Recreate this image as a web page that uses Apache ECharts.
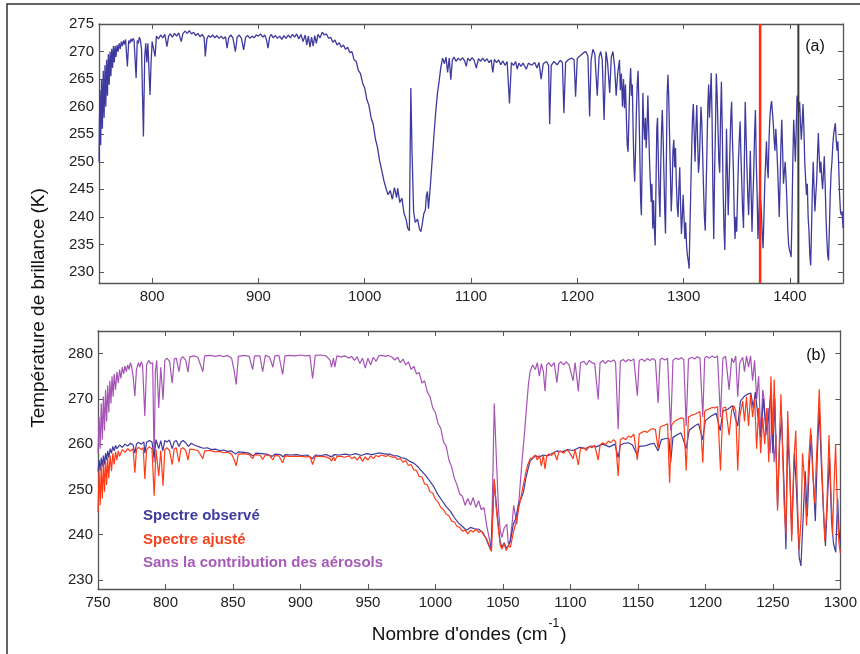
<!DOCTYPE html>
<html>
<head>
<meta charset="utf-8">
<script src="https://cdn.jsdelivr.net/npm/echarts@6.0.0/dist/echarts.min.js"></script>
<style>html,body{margin:0;padding:0;background:#fff;}#chart{width:860px;height:654px;}</style>
</head>
<body>
<div id="chart"></div>
<script>
// ---------- axis ticks ----------
const waveTicksA = [800, 900, 1000, 1100, 1200, 1300, 1400];
const tempTicksA = [230, 235, 240, 245, 250, 255, 260, 265, 270, 275];
const waveTicksB = [750, 800, 850, 900, 950, 1000, 1050, 1100, 1150, 1200, 1250, 1300];
const tempTicksB = [230, 240, 250, 260, 270, 280];
const markerLinesA = [1372, 1408];   // red and black channel markers (cm-1)

// ---------- panel (a): observed spectrum [wavenumber, Tb] ----------
const specA = [
[750,250],[750.8,263],[751.6,253],[752.4,265],[753.2,256],[754,266.5],[754.8,258],[755.6,267.5],[756.4,260],[757.2,268.5],[758,262],[758.8,269.5],[759.6,264],[760.4,270],[761.2,265.5],[762,270.5],[762.8,267],[763.6,271],[764.4,268],[765.2,271],[766,269],[767,271.2],[768,270],[769,271.5],[770,270.5],[771,271.8],[772,271],[773,272],[774,271.3],[775,272.2],[776.7,267.3],[778,272],[779,271.5],[780,272.3],[781,271.8],[782,272.4],[783,272],[784.9,265.2],[786,272],[787,271.5],[788,272.6],[789,272],[790,270.5],[791.8,254.6],[793,269],[794,271.5],[795,268],[796,271.5],[798,262.1],[799,268],[800,271.8],
[802.8,269.1],[804,272.8],[806,272.3],[808,273],[810,272.5],[812,273.1],[813.9,270.9],[815.5,272.8],[817,273.2],[819,272.6],[821,273.3],[823,272.8],[825,273.4],[827.4,271.8],[829,273.3],[831,273.7],[833,273.3],[835,273.8],[837,273.2],[839,273.5],[841,272.9],[843,273.3],[845,272.7],[847,273.1],[849,272.5],[850,269.1],[851.5,272.3],[853,272.9],[855,272.6],[857,273],[859,272.5],[861,272.9],[863,272.4],[865,272.8],[867,272.3],[869,272.7],[870.5,270.6],[872,272.5],[874,273],[876,272.5],[878.3,270],[880,272.6],[882,273],[884,272.4],[886.1,270.3],[888,272.6],[890,272.9],[892,272.4],[894,272.8],[896,272.5],[898,273],[900,272.8],[902,273.2],[904,272.6],[906,273],[907.5,272.2],[909,270.6],[910.5,272.6],[912,273.1],[914,272.5],[916,272.9],[918,272.4],[920,272.8],[922,272.2],[924,272.9],[926,272.4],[928,273],[930,272.5],[932,273.1],[934,272.6],[936,273.2],[938,272.3],[940,273.1],[942,271.8],[944,273],[945.5,271.2],[947,272.8],[948.5,270.8],[950,272.6],[951.5,271],[953,272.9],[954.5,271.5],[956,273.1],[958,272.5],[960,273.5],[962,273],[964,273.2],[966,272.4],[968,272.6],[970,271.7],[972,272.1],[974,271.2],[976,271.6],[978,270.8],[980,271.2],[982,270.4],[984,270.8],[986,269.8],[988,270],[990,268.5],[992,268.2],[994,266.6],[996,266],[998,264.3],[1000,263.4],[1002,261.3],[1004,260.2],[1006,258],[1008,256.8],[1010,254.2],[1012,252.6],[1014,250.2],[1016,248.5],[1018,246.6],[1020,245.2],[1022,244],[1024,244.8],[1026,243.2],[1028,245.3],[1030,243.5],[1031,245.2],[1033,242.6],[1035,243.4],[1037,240.6],[1039,239.5],[1040.5,237.9],[1042,237.5],[1043.4,263.4],[1044.5,252],[1046,241],[1047.5,239],[1049.7,239.6],[1051.5,237.8],[1052.8,237.3],[1054,238.5],[1055.5,240.5],[1057,241.2],[1058,243.8],[1059,244.6],[1060,241.5],[1061.5,245],[1063,249],[1065.4,255.5],[1067,259.5],[1068.5,262.5],[1070,264.6],[1071.5,267],[1073.3,268.8],[1075,267.8],[1076.5,269],[1078,266.2],[1079.5,268.8],[1081,264.9],[1082.5,268.5],[1084,269],[1086,268.2],[1088,268.8],[1090,268.4],[1092,268.9],[1094,268.3],[1095.5,267.3],[1097,268.8],[1099,268.3],[1101,268.9],[1103,268.4],[1105,267],[1107,268.7],[1109,268.2],[1111,268.8],[1113,268.2],[1115,268.7],[1117,268],[1119,268.5],[1120.5,266.2],[1122,268.6],[1124,268],[1126,268.5],[1128,267.6],[1130,268.3],[1132,267.5],[1134,268.2],[1136.2,260.6],[1138,268],[1140,267.5],[1142,268.2],[1143.5,266.8],[1145,267.9],[1147,267.3],[1149,267.9],
[1150,267.8],[1152,266.8],[1154,267.9],[1157,267.5],[1160,268],[1162,267],[1164,268],[1166,265],[1168,267.8],[1171,268.2],[1173,267.5],[1174,256.8],[1175.5,267.5],[1178,268.2],[1181,267.6],[1184,268.4],[1186,268],[1187.4,258.8],[1189,268],[1192,268.6],[1195,268.8],[1197,268.5],[1198.4,261.8],[1200,268.8],[1203,269.3],[1206,269.8],[1208,270],[1210,269.2],[1211.6,258.2],[1213,268.5],[1214.7,270.4],[1216.5,269.5],[1218.8,262],[1220.5,269],[1222,270],[1223.5,268.5],[1225.2,257.6],[1227,270],[1228.5,268],[1230.5,262.5],[1232,269],[1233.5,270],[1235,267.5],
[1236.6,262],[1238,266],[1239.7,268.5],[1240.5,263],[1241.5,266],[1242.5,260],[1243.5,265],[1244.4,259.7],[1245.3,264],[1246.2,258],[1247,253],[1247.8,251.8],[1248.6,258],[1249.4,264],[1250.2,267],[1251,262],[1251.8,264],[1252.6,255],[1253.4,249],[1254,246.4],[1254.8,252],[1255.6,259],[1256.4,264],[1257.2,266.5],[1258,260],[1258.8,252],[1259.6,243],[1260.3,240.3],[1261,250],[1261.7,262.5],[1262.5,257],[1263.3,254],[1264.1,258],[1264.8,252.5],[1265.6,256],[1266.4,262],[1267.2,256],[1268,250],[1268.8,246],[1269.5,242.7],[1270.2,246],[1271,237.9],[1271.8,243],[1272.5,238],[1273.3,234.8],[1274,245],[1274.8,256],[1275.5,258],[1276.3,250],[1277,244],[1277.8,240],[1278.6,250],[1279.3,256],[1280,259.4],[1280.8,254],[1281.5,248],[1282.3,241],[1283,237],[1283.8,250],[1284.5,262],[1285.3,265.8],[1286,262],[1286.8,255],[1287.6,248],[1288.4,241],[1289.2,245],[1290,252],[1290.8,254],[1291.6,249],[1292.4,252.5],[1293.2,246],[1294,242],[1294.8,240],[1295.6,245],[1296.4,249],[1297.2,242],[1298,236.9],[1298.8,240],[1299.6,244],[1300.4,240],[1301.2,236],[1302,239],[1302.8,235],[1303.6,233],[1304.4,232],[1305.2,230.6],[1306,238],[1306.8,245],[1307.6,252],[1308.4,258],[1309.2,260.5],[1310,255],[1310.8,250],[1311.6,256],[1312.4,260.3],[1313.2,254],[1314,248],[1314.8,250],[1315.6,255],[1316.4,260],[1317.2,257],[1318,251],[1318.8,245],[1319.6,240],[1320.4,237.5],[1321.2,245],[1322,252],[1322.8,260],[1323.6,264],[1324.4,258],[1325.2,262],[1326,266.1],[1326.8,258],[1327.6,245],[1328.4,236],[1329.2,248],[1330,256],[1330.8,266],[1331.6,262],[1332.4,256],[1333.2,250],[1334,248],[1334.8,258],[1335.6,264.5],[1336.4,256],[1337.2,245],[1338,238],[1338.8,234],[1339.6,244],[1340.4,256],[1341.2,248],[1342,240.3],[1342.8,246],[1343.6,252],[1344.4,258],[1345.2,260.9],[1346,254],[1346.8,249],[1347.6,241],[1348.4,236],[1349.2,240],[1350,237.3],[1350.8,244],[1351.6,250],[1352.4,254],[1353.2,257.3],[1354,251],[1354.8,246],[1355.6,241],[1356.4,238],[1357.2,250],[1358,260.9],[1358.8,255],[1359.6,249],[1360.4,244],[1361.2,240.3],[1362,246],[1362.8,252],[1363.6,244],[1364.4,237.3],[1365.2,243],[1366,248],[1366.8,255],[1367.6,259.4],[1368.4,250],[1369.2,244],[1370,236],[1370.8,240],[1371.6,245],[1372.4,243],[1373.2,241],[1374,237],[1374.8,234.3],[1375.6,240],[1376.4,246],[1377.2,250],[1378,253.7],[1378.8,249],[1379.6,247],[1380.4,254],[1381.2,258],[1382,260],[1382.8,261],[1383.6,259],[1384.4,257],[1385.2,254],[1386,252],[1386.8,256],[1387.6,253],[1388.4,249.4],[1389.2,245],[1390,240],[1390.8,246],[1391.6,253],[1392.4,257.6],[1393.2,252],[1394,246],[1394.8,248],[1395.6,250],[1396.4,247],[1397.2,243],[1398,238],[1398.8,235],[1399.6,234],[1400.4,233.5],[1401.2,232.7],[1402,240],[1402.8,250],[1403.6,257.6],[1404.4,254],[1405.2,250],[1406,256],[1406.8,262],[1407.6,261],[1408.4,259],[1409.2,260.9],[1410,257],[1410.8,254],[1411.6,257],[1412.4,260.5],[1413.2,256],[1414,250],[1414.8,247],[1415.6,244],[1416.4,246],[1417.2,240],[1418,237.3],[1418.8,233],[1419.6,231.2],[1420.4,238],[1421.2,245],[1422,250],[1422.8,245],[1423.6,241],[1424.4,244],[1425.2,246.4],[1426,251],[1426.8,255.2],[1427.6,251],[1428.4,248],[1429.2,250],[1430,247],[1430.8,245],[1431.6,248],[1432.4,251],[1433.2,246],[1434,240],[1434.8,236],[1435.6,233],[1436.4,232.1],[1437.2,238],[1438,244],[1438.8,248],[1439.6,250],[1440.4,253],[1441.2,255],[1442,256],[1442.8,257],[1443.6,254],[1444.4,252],[1445.2,253.7],[1446,249],[1446.8,244],[1447.6,241],[1448.4,240.3],[1449.2,241],[1450,238]
];

// ---------- panel (b): observed, fitted, without aerosols ----------
const specObs = [
[750,254],[750.8,256.5],[751.6,254],[752.4,257],[753.2,255],[754,257.5],[754.8,255.5],[755.6,258],[756.4,256.5],[757.2,258.5],[758,257],[759,259],[760,258],[761,259.5],[762,258.5],[763,259.7],[764,259],[766,259.8],[768,259.3],[770,260],[772,259.6],[774,260.2],[776,259.8],[777.3,258],[778.5,260],[780,260.4],[782,260],[784,260.5],[784.7,258],[786,260.4],[788,260.8],[790,260.5],[791.6,257],[793,261],[795,259],[796.5,260.8],[798,258.5],[799.5,260.8],[801,260.5],[803,260.9],[805,259],[806.5,260.6],[808,260.8],[810,259.5],[811.5,260.5],[813,260.8],[815,260.3],[817,259.5],[819,260.2],[822,259.7],[825,259.4],[828,259.1],[831,259.2],[834,258.8],[837,258.9],[840,258.6],[843,258.7],[846,258.4],[849,258.5],[852,257.8],[854,258.3],[858,258.2],[862,258],[865,257.4],[867,258],[871,257.9],[875,257.8],[879,257.3],[881,257.8],[885,257.7],[887,257.2],[889,257.7],[893,257.6],[897,257.7],[901,257.5],[905,257.6],[909,256.8],[911,257.6],[915,257.5],[919,257.7],[923,257.2],[925,257.7],[929,257.6],[933,257.8],[937,257.6],[941,257.9],[945,257.5],[949,257.9],[953,257.7],[957,258],[960,258],[963,257.8],[966,257.8],[969,257.5],[972,257.4],[975,257],[978,256.8],[981,256.2],[984,255.8],[987,255],[990,254],[993,253],[996,251.8],[999,250.5],[1002,248.8],[1005,247.5],[1008,246.2],[1011,245.2],[1014,243.8],[1017,242.6],[1020,241.8],[1023,241],[1026,241.6],[1029,241.3],[1032,241.2],[1035,240.5],[1037,239.5],[1039,238],[1041,236.6],[1042.5,245],[1043.6,251.9],[1045,247],[1046.8,241.5],[1048,238.5],[1049.2,237.2],[1051,238.2],[1052.5,237],[1054,237.5],[1055.5,238.5],[1057.8,242.4],[1059.5,243.5],[1061.5,246.7],[1063.5,248],[1065.2,249.4],[1067,252.5],[1069,255],[1070.2,256.3],[1072,256.8],[1074,257.4],[1077,257.2],[1080,257.6],[1083,257.4],[1086,257.9],[1090,258.5],[1094,258.3],[1098,258.8],[1102,258.6],[1107,259.3],[1111,259],[1115,259.6],[1119,259.4],[1124,260],[1129,259.4],[1133,260],[1135.4,257],[1137,259.8],[1140,260.2],[1143,260.3],[1146,259.8],[1149.6,257.5],[1151,259.5],[1155,259.6],[1159,260],[1162,260.2],[1165,258.5],[1167.4,261],[1170,261.2],[1173,261.3],[1174.3,256],[1176,261.5],[1179.7,262.2],[1182,262.5],[1185.8,259],[1188,263],[1192,264],[1195,264.5],[1198,261],[1200,265.2],[1204.3,266.2],[1208,266.8],[1211,263],[1213,267.3],[1216.6,267.7],[1220,268.5],[1222,266],[1224,264],[1226,269.5],[1229,270.6],[1231,271],[1233.7,271.3],[1235.5,268],[1237,271.5],[1239,266],[1241,261.5],[1243,270],[1245,263],[1247,266],[1248.6,272],[1250,258],[1251.5,270],[1253.5,246],[1255,260],[1256.5,266],[1258.4,250],[1259.7,236.8],[1261,262],[1262.5,254],[1264,240],[1266,258],[1267.5,250],[1269.5,235],[1270.8,233.1],[1272.5,244],[1274,254],[1275.5,244],[1277,255],[1278.5,262],[1280,252],[1281.5,243],[1283,258],[1284.4,268],[1286,255],[1287.5,245],[1289,237.5],[1290.5,248],[1292,257],[1293.5,243],[1295,238],[1296.6,236.1],[1298,248],[1299,241],[1300,237.8]
];

const specFit = [
[750,245],[750.8,254],[751.6,246.5],[752.4,255],[753.2,248],[754,256],[754.8,249.5],[755.6,256.5],[756.4,251],[757.2,257],[758,252.5],[759,257.5],[760,254],[761,258],[762,255.5],[763,258.3],[764,256.5],[765,258.5],[766,257.3],[768,258.8],[770,258.2],[772,259],[774,258.5],[776,259],[777.3,253.7],[778.5,258.8],[780,259.3],[782,258.8],[783.5,259.2],[784.7,252.3],[786,258.8],[788,259.4],[790,259],[791.6,248.6],[793,258.8],[795,253],[796.5,258.6],[798.2,250.8],[799.5,258.8],[801,259.2],[803,258.6],[805,255.5],[806.5,259],[808,259.2],[810,256],[811.5,259],[813,259.2],[815,258.6],[816.7,256.5],[818,258.9],[821,258.8],[824,258.6],[827.7,256.8],[829,258.5],[833,258.6],[837,258.3],[840,258.4],[843,258.1],[846,258.2],[849,257.8],[851,256.5],[852.4,255.2],[854,257.8],[858,257.9],[862,257.7],[864.6,256.8],[866,257.7],[870,257.6],[872,256.6],[874,257.6],[877,257.5],[879.6,256.5],[881,257.5],[884,257.4],[886.8,255.9],[888.5,257.4],[892,257.3],[896,257.3],[900,257.3],[904,257.2],[907,257.3],[909,255.5],[911,257.3],[915,257.3],[919,257.2],[922,256.8],[923,256.2],[924.5,257.2],[925.5,256.3],[927,257.3],[930,257.3],[933,257.1],[936,257.4],[938,256.8],[940,257.2],[942,256.5],[944,257.3],[946,256.2],[948,257.2],[950,256.5],[952,257.4],[954,256.8],[956,257.5],[958,257.2],[960,257.6],[963,257.3],[965,257.5],[968,257.1],[970,257.2],[972,256.6],[974,256.8],[976,256],[978,256.4],[980,255.3],[982,255.5],[984,254.3],[986,254.2],[988,252.8],[990,252.8],[992,251.2],[994,251],[996,249.5],[998,249.2],[1000,247.8],[1002,247.2],[1004,246],[1006,245.5],[1008,244.5],[1010,244.2],[1012,243],[1014,242.8],[1016,241.8],[1018,241.6],[1020,240.8],[1022,241],[1024,240.2],[1026,241],[1028,240.6],[1030,241.2],[1032,240.5],[1034,240.8],[1036,239.8],[1038,239],[1040,237.5],[1041.5,236.3],[1042.5,244],[1043.6,252.3],[1045,246],[1046.8,240.8],[1048,237.8],[1049.2,236.8],[1051,238],[1052.5,236.5],[1054,237.6],[1055.5,237.2],[1057.8,240.5],[1059.5,242.5],[1061.5,245.5],[1063.5,248.5],[1065.2,251],[1067,253.8],[1068.5,255.5],[1070.2,256.8],[1072,257],[1074,257.6],[1075.5,256.5],[1077,257.5],[1078.5,255.2],[1080,257.6],[1081.2,254.5],[1082.5,257.5],[1084,257.8],[1086,257.5],[1088,258.2],[1090,256.5],[1091.5,258.3],[1093,258.5],[1095,258],[1097,258.7],[1099,258.3],[1102,256.8],[1103.5,258.8],[1105.9,255.4],[1107.5,259],[1110,259.2],[1112,258.6],[1114,259.5],[1116,259.2],[1118,259.8],[1120.6,256.5],[1122,259.8],[1124,260.3],[1126,259.9],[1128,260.6],[1130,260.4],[1132,261],[1133.5,260.5],[1135.4,253],[1137,261],[1139,261.4],[1141,261],[1143,261.8],[1145,261.5],[1147,262.2],[1149.6,256.5],[1151,262.3],[1153,262.6],[1155,262.9],[1157,262.6],[1159,263.2],[1161,263.4],[1163,263.2],[1165,259],[1166.5,263.8],[1168,264],[1170,264.2],[1172,264.5],[1173.5,251.5],[1175,264.2],[1177,265],[1179.7,265.5],[1182,265.8],[1184,265.6],[1185.8,254.2],[1187.5,266],[1190,266.4],[1192,266.6],[1194,266.9],[1196,267.2],[1198.1,255.9],[1199.5,267.2],[1201,267.6],[1203,267.8],[1205,268.1],[1207,268],[1209,268.3],[1211.2,254.2],[1213,268],[1215,268.2],[1217.6,262],[1219.5,267.5],[1221,268.5],[1222.5,267.5],[1224,254.2],[1225.5,266],[1227.7,269.5],[1229,265],[1230.5,270.5],[1232,264],[1233.5,271],[1235,266],[1236.5,270],[1238,259],[1239.5,268],[1241,258],[1242.5,266],[1244,260],[1245.5,268],[1247,256],[1248.6,275],[1250,262],[1251,274.3],[1253.5,245.3],[1255,262],[1256,271],[1258.4,246.5],[1259.7,240],[1261,267.3],[1262.5,255],[1264,238.5],[1265.5,256],[1267,263],[1268.5,245],[1269.5,236.5],[1271,244],[1272,258],[1273.5,252],[1275,242],[1276.5,256],[1278,263.5],[1279.5,254],[1281,247],[1282.5,258],[1284.4,272.1],[1286,258],[1287,250],[1288.5,238.5],[1290,246],[1291.6,262],[1293,250],[1294.2,240],[1295.5,252],[1296.5,260],[1298,244],[1299,238],[1300,236]
];

const specNoAer = [
[750,258],[750.8,266],[751.6,259],[752.4,269],[753.2,261],[754,270.5],[754.8,263],[755.6,272],[756.4,265],[757.2,273],[758,267],[758.8,274],[759.6,269],[760.4,275],[761.2,270.5],[762,275.5],[763,272],[764,276],[765,273.5],[766,276.5],[767,274.5],[768,277],[769,275.5],[770,277.3],[771,276],[772,277.5],[773,276.5],[774,278],[775,277],[776,275],[777.3,270.6],[778.5,276.5],[780,278],[781,277],[782,278.2],[783,277.5],[784.7,266.2],[786,277.5],[787.5,278.5],[789,277.8],[790.5,278],[791.6,256],[792.5,276],[793.5,278.5],[795,268],[796.5,277],[798.2,269.8],[799.5,278.5],[801,279],[803,278.3],[805,273.5],[806.5,278.8],[808,279],[810,276],[811.5,279],[813,279.3],[815,278.5],[816.7,275.9],[818,279.3],[821,279.5],[824,279.2],[827.7,276],[829,279.5],[833,279.6],[837,279.4],[840,279.6],[843,279.3],[846,279.6],[849,279],[851,276],[852.4,273.2],[854,279.4],[858,279.6],[862,279.4],[864.6,276.5],[866,279.5],[870,279.5],[872,276],[874,279.6],[877,279.3],[879.6,277],[881,279.5],[884,279.6],[886.8,275.4],[888.5,279.5],[892,279.6],[896,279.5],[900,279.7],[904,279.5],[907,279.6],[909,274.5],[911,279.6],[915,279.7],[919,279.5],[922,278.5],[923,277],[924.5,279],[925.5,277],[927,279.5],[930,279.3],[933,279.5],[936,279],[938,279.4],[940,278.5],[942,279.3],[944,277.8],[946,279],[948,276.8],[950,279],[952,277.5],[954,279.2],[956,278.3],[958,279.5],[960,279.6],[963,279.4],[965,279.6],[968,279.2],[970,278.6],[972,279.2],[974,278],[976,278.8],[978,277.5],[980,278.2],[982,276.5],[984,277.2],[986,275.5],[988,275.8],[990,273.5],[992,274],[994,271.5],[996,270.5],[998,268],[1000,267],[1002,264.5],[1004,263.5],[1006,260.5],[1008,259.5],[1010,256.5],[1012,255],[1014,252.5],[1016,251],[1018,249],[1020,248.5],[1022,246.5],[1024,248],[1026,246.5],[1028,248.2],[1030,246],[1032,247.5],[1034,245.5],[1036,246],[1038,242],[1040,239],[1041.5,236.5],[1043.6,269],[1045,258],[1046.8,245.3],[1048,241],[1049.2,239.4],[1051,241.5],[1052.9,242.3],[1054,238],[1055.4,238.7],[1057,243],[1058,246.5],[1060.3,242.3],[1062,248],[1064,255.6],[1066,262.5],[1067.7,268.8],[1069,273.5],[1070.2,276.1],[1072,277.5],[1074,276.5],[1075.5,278],[1077,275],[1078.5,277.8],[1080,276],[1081.2,271.7],[1082.5,277.5],[1084,278],[1086,277.2],[1088,278],[1090,273.6],[1091.5,277.8],[1093,278.2],[1095,277.5],[1097,278.2],[1099,277.5],[1102,274],[1103.5,278],[1105.9,271.7],[1107.5,278],[1110,278.3],[1112,277.5],[1114,278.5],[1116,278],[1118,277.8],[1120.6,269.9],[1122,278],[1124,278.5],[1126,277.8],[1128,278.5],[1130,278.2],[1132,278.6],[1133.5,278],[1135.4,263.3],[1137,278.3],[1139,278.7],[1141,278.2],[1143,278.7],[1145,278.4],[1147,278.8],[1149.6,270.7],[1151,278.5],[1153,278.8],[1155,278.3],[1157,278.9],[1159,278.5],[1161,278.9],[1163,278.5],[1165,269.1],[1166.5,278.7],[1168,279],[1170,278.6],[1172,279],[1174.3,263],[1176,278.5],[1178,279],[1180,278.7],[1182,279.1],[1184,278.7],[1185.8,264],[1187.5,278.8],[1190,279.2],[1192,278.8],[1194,279.3],[1196,279],[1198.1,266],[1199.5,279],[1201,279.4],[1203,279],[1205,279.5],[1207,279.1],[1209,279.5],[1211.2,266],[1213,279],[1215,279.4],[1217.6,272],[1219.5,279],[1221,278],[1222.5,279.5],[1224,270.5],[1225.5,278],[1227.7,279.2],[1229,276],[1230.5,279.5],[1232,277],[1233.5,279.5],[1235,274],[1236.5,278.5],[1238,270],[1239.5,275],[1241,261.6],[1242.5,272],[1243.5,270],[1245,262],[1246.5,268],[1248,258],[1249.5,266],[1251,256],[1252.5,262]
];

// ---------- chart ----------
const FONT = "'Liberation Sans', Arial, sans-serif";
const C_OBS = '#3f3a9e', C_FIT = '#ff3b18', C_NOAER = '#a653b6';
const AX = '#555';
const fmt = function (v) { return String(v); };

function bottomX(grid, min, max, ticks, showLabel) {
  return {
    type: 'value', gridIndex: grid, min: min, max: max, position: 'bottom',
    axisLine: {show: true, onZero: false, lineStyle: {color: AX, width: 1.3}},
    axisTick: {show: true, inside: true, length: 5, customValues: ticks, lineStyle: {color: AX}},
    axisLabel: {show: showLabel, customValues: ticks, formatter: fmt, color: '#222', fontFamily: FONT, fontSize: 15, margin: 6},
    splitLine: {show: false}
  };
}
function topX(grid, min, max, ticks) {
  return {
    type: 'value', gridIndex: grid, min: min, max: max, position: 'top',
    axisLine: {show: true, onZero: false, lineStyle: {color: AX, width: 1.3}},
    axisTick: {show: true, inside: true, length: 5, customValues: ticks, lineStyle: {color: AX}},
    axisLabel: {show: false}, splitLine: {show: false}
  };
}
function leftY(grid, min, max, ticks) {
  return {
    type: 'value', gridIndex: grid, min: min, max: max, position: 'left',
    axisLine: {show: true, onZero: false, lineStyle: {color: AX, width: 1.3}},
    axisTick: {show: true, inside: true, length: 5, customValues: ticks, lineStyle: {color: AX}},
    axisLabel: {show: true, customValues: ticks, formatter: fmt, color: '#222', fontFamily: FONT, fontSize: 15, margin: 5},
    splitLine: {show: false}
  };
}
function rightY(grid, min, max, ticks) {
  return {
    type: 'value', gridIndex: grid, min: min, max: max, position: 'right',
    axisLine: {show: true, onZero: false, lineStyle: {color: AX, width: 1.3}},
    axisTick: {show: true, inside: true, length: 5, customValues: ticks, lineStyle: {color: AX}},
    axisLabel: {show: false}, splitLine: {show: false}
  };
}
function lineSeries(data, color, xi, yi, z, w) {
  return {
    type: 'line', data: data, xAxisIndex: xi, yAxisIndex: yi, showSymbol: false, symbol: 'none',
    lineStyle: {color: color, width: w}, z: z, silent: true, clip: true
  };
}
function vLine(x, y0, y1, color, w) {
  return {
    type: 'line', data: [[x, y0], [x, y1]], xAxisIndex: 0, yAxisIndex: 0, showSymbol: false, symbol: 'none',
    lineStyle: {color: color, width: w}, z: 5, silent: true
  };
}

const xB = bottomX(1, 750, 1300, waveTicksB, true);
xB.name = "{a|Nombre d'ondes (cm}{s|-1}{a|)}";
xB.nameLocation = 'middle';
xB.nameGap = 29;
xB.nameTextStyle = {
  rich: {
    a: {fontFamily: FONT, fontSize: 19, color: '#111', lineHeight: 26, verticalAlign: 'bottom'},
    s: {fontFamily: FONT, fontSize: 12, color: '#111', lineHeight: 26, verticalAlign: 'top', padding: [0, 1, 0, 1]}
  }
};

const option = {
  animation: false,
  backgroundColor: '#fff',
  grid: [
    {left: 99, top: 24, width: 744, height: 259, containLabel: false},
    {left: 98, top: 331, width: 745, height: 258, containLabel: false}
  ],
  xAxis: [
    bottomX(0, 750, 1450, waveTicksA, true),
    topX(0, 750, 1450, waveTicksA),
    xB,
    topX(1, 750, 1300, waveTicksB)
  ],
  yAxis: [
    leftY(0, 228, 275, tempTicksA),
    rightY(0, 228, 275, tempTicksA),
    leftY(1, 228, 285, tempTicksB),
    rightY(1, 228, 285, tempTicksB)
  ],
  series: [
    lineSeries(specA, C_OBS, 0, 0, 3, 1.3),
    vLine(markerLinesA[0], 228, 275, '#ff2a12', 2.5),
    vLine(markerLinesA[1], 228, 275, '#3a3a3a', 2),
    lineSeries(specNoAer, C_NOAER, 2, 2, 2, 1.2),
    lineSeries(specObs, C_OBS, 2, 2, 3, 1.2),
    lineSeries(specFit, C_FIT, 2, 2, 4, 1.2)
  ],
  graphic: [
    {type: 'polyline', shape: {points: [[7, 660], [7, 4], [870, 4]]}, style: {stroke: '#333', lineWidth: 1.5, fill: null}, silent: true},
    {type: 'text', x: 39, y: 308, rotation: Math.PI / 2,
      style: {text: 'Température de brillance (K)', fontFamily: FONT, fontSize: 19, fill: '#111', align: 'center', verticalAlign: 'middle'}},
    {type: 'text', x: 815, y: 47, style: {text: '(a)', fontFamily: FONT, fontSize: 16, fill: '#111', align: 'center', verticalAlign: 'middle'}},
    {type: 'text', x: 816, y: 356, style: {text: '(b)', fontFamily: FONT, fontSize: 16, fill: '#111', align: 'center', verticalAlign: 'middle'}},
    {type: 'text', x: 143, y: 516, style: {text: 'Spectre observé', fontFamily: FONT, fontSize: 15, fontWeight: 'bold', fill: '#3d3c9e', align: 'left', verticalAlign: 'middle'}},
    {type: 'text', x: 143, y: 540, style: {text: 'Spectre ajusté', fontFamily: FONT, fontSize: 15, fontWeight: 'bold', fill: '#f4431f', align: 'left', verticalAlign: 'middle'}},
    {type: 'text', x: 143, y: 563, style: {text: 'Sans la contribution des aérosols', fontFamily: FONT, fontSize: 15, fontWeight: 'bold', fill: '#a65bb8', align: 'left', verticalAlign: 'middle'}}
  ]
};

const chart = echarts.init(document.getElementById('chart'), null, {renderer: 'canvas'});
chart.setOption(option);
</script>
</body>
</html>
